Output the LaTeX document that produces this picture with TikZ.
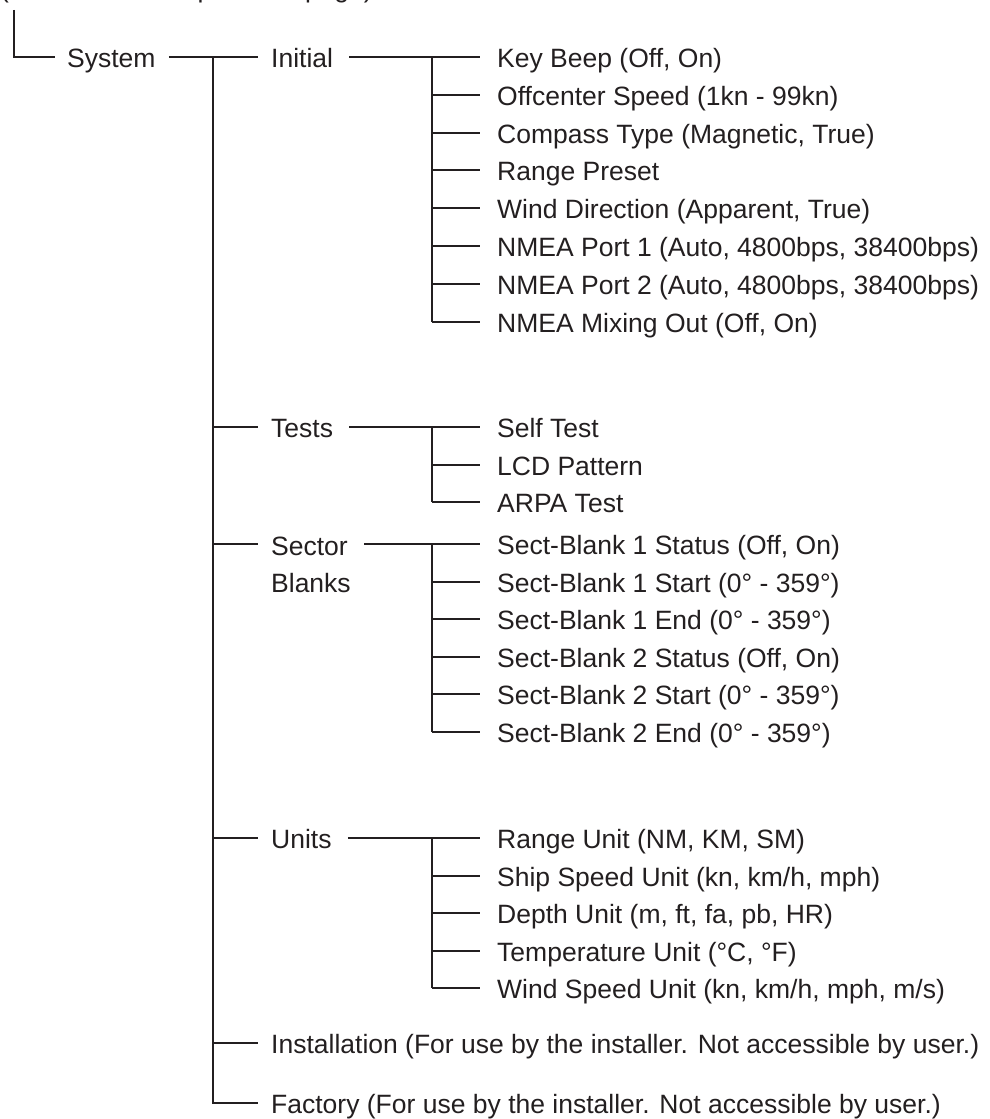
\documentclass[tikz,border=0pt]{standalone}
\usepackage{fontspec}
\setmainfont{Liberation Sans}
\usetikzlibrary{calc}
\definecolor{ink}{HTML}{231F20}
\begin{document}
\begin{tikzpicture}[x=1pt,y=-1pt,
  lbl/.style={anchor=base west, inner sep=0pt, font=\fontsize{26.5}{37.5}\selectfont, text=ink, align=left},
  wire/.style={draw=ink, line width=2pt}]
\path[use as bounding box, clip] (0,0) rectangle (990,1119);
% previous-page text (cut by the top edge)
\node[lbl] (prev) at (0,-2.2) {(Continued from previous page)};
% level 1
\node[lbl] (sys) at (67,67.5) {System};
\draw[wire] ($(prev.base west)+(14,12)$) |- ($(sys.base west)+(-12,-10.5)$);
% level 2
\node[lbl] (ini) at (271,67.5) {Initial};
\node[lbl] (tst) at (271,437.5) {Tests};
\node[lbl] (sec) at (271,592.5) {Sector\\Blanks};
\node[lbl] (uni) at (271,848.5) {Units};
\node[lbl] (ins) at (271,1053.5) {Installation (For use by the installer. Not accessible by user.)};
\node[lbl] (fac) at (271,1113.5) {Factory (For use by the installer. Not accessible by user.)};
\coordinate (trk) at (213,57);
\draw[wire] ($(sys.base east)+(13,-10.5)$) -- ($(ini.base west)+(-13,-10.5)$);
\draw[wire] (trk) |- ($(fac.base west)+(-13,-10.5)$);
\foreach \n in {tst,uni,ins}{
  \coordinate (\n L) at ($(\n.base west)+(-13,-10.5)$);
  \draw[wire] (trk |- \n L) -- (\n L);
}
\coordinate (secL) at ($(sec.base west)+(-13,-48.5)$);
\draw[wire] (trk |- secL) -- (secL);
% level 3 : Initial
\foreach \n/\y/\t in {a1/67.5/{Key Beep (Off, On)},
  a2/105.5/{Offcenter Speed (1kn - 99kn)},
  a3/143.5/{Compass Type (Magnetic, True)},
  a4/180.5/{Range Preset},
  a5/218.5/{Wind Direction (Apparent, True)},
  a6/256.5/{NMEA Port 1 (Auto, 4800bps, 38400bps)},
  a7/294.5/{NMEA Port 2 (Auto, 4800bps, 38400bps)},
  a8/332.5/{NMEA Mixing Out (Off, On)}}{
  \node[lbl] (\n) at (497,\y) {\t};
  \coordinate (\n R) at ($(\n.base west)+(-17,-10.5)$);
  \draw[wire] ($(\n R)+(-48,0)$) -- (\n R);
}
\draw[wire] ($(ini.base east)+(16,-10.5)$) -- (a1R);
\draw[wire] ($(a1R)+(-48,0)$) -- ($(a8R)+(-48,0)$);
% Tests
\foreach \n/\y/\t in {b1/437.5/{Self Test},
  b2/475.5/{LCD Pattern},
  b3/512.5/{ARPA Test}}{
  \node[lbl] (\n) at (497,\y) {\t};
  \coordinate (\n R) at ($(\n.base west)+(-17,-10.5)$);
  \draw[wire] ($(\n R)+(-48,0)$) -- (\n R);
}
\draw[wire] ($(tst.base east)+(16,-10.5)$) -- (b1R);
\draw[wire] ($(b1R)+(-48,0)$) -- ($(b3R)+(-48,0)$);
% Sector Blanks
\foreach \n/\y/\t in {c1/554.5/{Sect-Blank 1 Status (Off, On)},
  c2/592.5/{Sect-Blank 1 Start (0° - 359°)},
  c3/629.5/{Sect-Blank 1 End (0° - 359°)},
  c4/667.5/{Sect-Blank 2 Status (Off, On)},
  c5/704.5/{Sect-Blank 2 Start (0° - 359°)},
  c6/742.5/{Sect-Blank 2 End (0° - 359°)}}{
  \node[lbl] (\n) at (497,\y) {\t};
  \coordinate (\n R) at ($(\n.base west)+(-17,-10.5)$);
  \draw[wire] ($(\n R)+(-48,0)$) -- (\n R);
}
\draw[wire] ($(sec.base west)+(93,-48.5)$) -- (c1R);
\draw[wire] ($(c1R)+(-48,0)$) -- ($(c6R)+(-48,0)$);
% Units
\foreach \n/\y/\t in {d1/848.5/{Range Unit (NM, KM, SM)},
  d2/886.5/{Ship Speed Unit (kn, km/h, mph)},
  d3/923.5/{Depth Unit (m, ft, fa, pb, HR)},
  d4/961.5/{Temperature Unit (°C, °F)},
  d5/998.5/{Wind Speed Unit (kn, km/h, mph, m/s)}}{
  \node[lbl] (\n) at (497,\y) {\t};
  \coordinate (\n R) at ($(\n.base west)+(-17,-10.5)$);
  \draw[wire] ($(\n R)+(-48,0)$) -- (\n R);
}
\draw[wire] ($(uni.base east)+(16,-10.5)$) -- (d1R);
\draw[wire] ($(d1R)+(-48,0)$) -- ($(d5R)+(-48,0)$);
\end{tikzpicture}
\end{document}
